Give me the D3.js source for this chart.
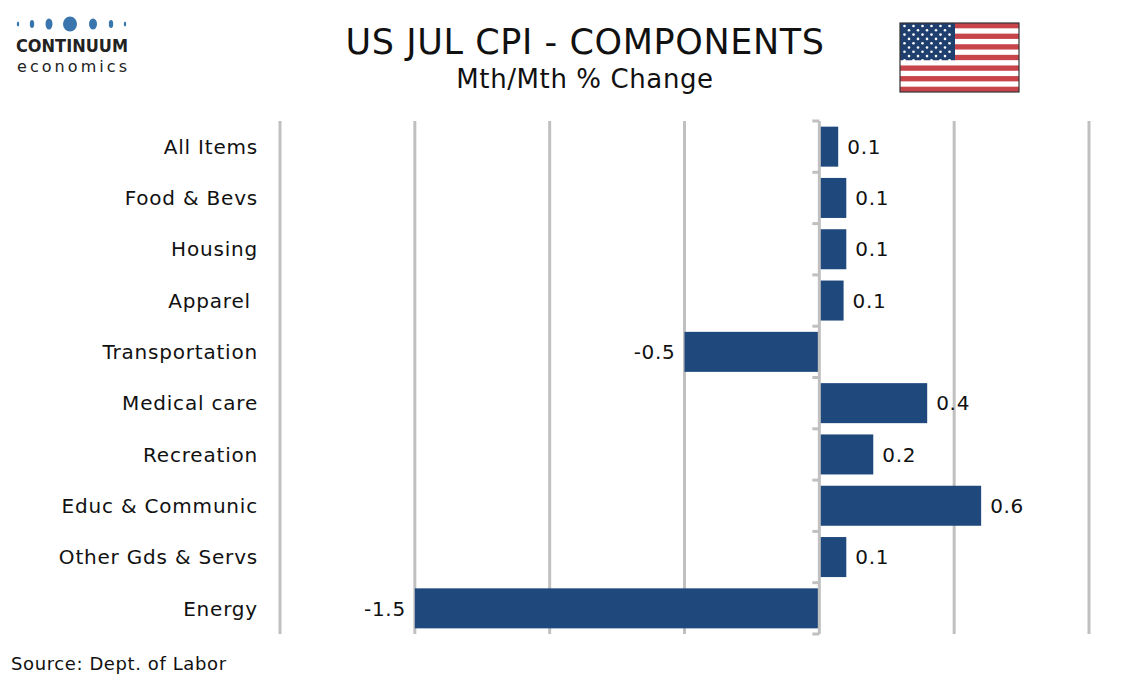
<!DOCTYPE html>
<html>
<head>
<meta charset="utf-8">
<script src="https://d3js.org/d3.v7.min.js"></script>
<title>US JUL CPI - Components</title>
<style>
body { margin: 0; background: #fff; }
svg { display: block; font-family: "DejaVu Sans", Verdana, sans-serif; }
</style>
</head>
<body>
<svg width="1134" height="680"></svg>
<script>

// mth/mth % change
let categories = ["All Items", "Food & Bevs", "Housing", "Apparel ", "Transportation",
  "Medical care", "Recreation", "Educ & Communic", "Other Gds & Servs", "Energy"];
let values = [0.07, 0.1, 0.1, 0.09, -0.5, 0.4, 0.2, 0.6, 0.1, -1.5];
let xTicks = [-2, -1.5, -1, -0.5, 0, 0.5, 1];

let svg = d3.select("svg");
let barColor = "#1f497d";
let gridColor = "#c0c0c0";
let fmt = d3.formatLocale({decimal: ".", thousands: ",", grouping: [3], currency: ["", ""], minus: "-"}).format(".1f");

let x = d3.scaleLinear().domain([-2, 1]).range([280, 1089]);
let y = d3.scaleBand().domain(categories).range([121, 634])
  .paddingInner(0.22).paddingOuter(0.11);

function drawTitle() {
  svg.append("text")
    .attr("x", 585).attr("y", 54)
    .attr("text-anchor", "middle")
    .attr("font-size", 35)
    .attr("letter-spacing", 0.6)
    .attr("fill", "#111")
    .text("US JUL CPI - COMPONENTS");
  svg.append("text")
    .attr("x", 585).attr("y", 88)
    .attr("text-anchor", "middle")
    .attr("font-size", 26)
    .attr("letter-spacing", 0.6)
    .attr("fill", "#111")
    .text("Mth/Mth % Change");
  svg.append("text")
    .attr("x", 11).attr("y", 670)
    .attr("font-size", 18)
    .attr("letter-spacing", 0.6)
    .attr("fill", "#111")
    .text("Source: Dept. of Labor");
}

function drawLogo() {
  // dots growing towards the middle
  let dots = [[18, 1.2, 2.5], [32, 2.2, 4], [49, 3.5, 5.5], [70, 7, 7.5], [93, 4, 5.5], [111, 2.2, 4], [125, 1.2, 2.5]];
  svg.selectAll("ellipse.logo").data(dots).enter().append("ellipse")
    .attr("class", "logo")
    .attr("cx", d => d[0]).attr("cy", 24)
    .attr("rx", d => d[1]).attr("ry", d => d[2])
    .attr("fill", "#3a76ad");
  svg.append("text")
    .attr("x", 16).attr("y", 52)
    .attr("font-size", 17).attr("font-weight", "bold")
    .attr("fill", "#222")
    .attr("textLength", 112)
    .attr("lengthAdjust", "spacingAndGlyphs")
    .text("CONTINUUM");
  svg.append("text")
    .attr("x", 17).attr("y", 72)
    .attr("font-size", 16)
    .attr("fill", "#222")
    .attr("textLength", 110)
    .text("economics");
}

function drawFlag() {
  let fx = 900, fy = 23, fw = 119, fh = 69;
  let g = svg.append("g");
  let sh = fh / 13;
  g.append("rect").attr("x", fx).attr("y", fy).attr("width", fw).attr("height", fh).attr("fill", "#fff");
  g.selectAll("rect.stripe").data(d3.range(0, 13, 2)).enter().append("rect")
    .attr("class", "stripe")
    .attr("x", fx).attr("y", d => fy + d * sh)
    .attr("width", fw).attr("height", sh)
    .attr("fill", "#c8444b");
  let cw = 55, ch = sh * 7;
  g.append("rect").attr("x", fx).attr("y", fy).attr("width", cw).attr("height", ch).attr("fill", "#1f3f6e");
  let stars = [];
  for (let r = 0; r < 9; r++) {
    let n = r % 2 == 0 ? 6 : 5;
    for (let c = 0; c < n; c++) {
      stars.push([fx + 4.5 + c * 9 + (r % 2) * 4.5, fy + 3 + r * 4.3]);
    }
  }
  g.selectAll("circle.star").data(stars).enter().append("circle")
    .attr("class", "star")
    .attr("cx", d => d[0]).attr("cy", d => d[1]).attr("r", 1.3)
    .attr("fill", "#fff");
  g.append("rect").attr("x", fx).attr("y", fy).attr("width", fw).attr("height", fh)
    .attr("fill", "none").attr("stroke", "#333").attr("stroke-width", 1.2);
}

function drawGrid() {
  svg.selectAll("line.grid").data(xTicks.filter(d => d != 0)).enter().append("line")
    .attr("class", "grid")
    .attr("x1", d => x(d)).attr("x2", d => x(d))
    .attr("y1", 121).attr("y2", 634)
    .attr("stroke", gridColor).attr("stroke-width", 3);
}

function drawBars() {
  svg.selectAll("rect.bar").data(values).enter().append("rect")
    .attr("class", "bar")
    .attr("x", d => x(Math.min(0, d)))
    .attr("y", (d, i) => y(categories[i]))
    .attr("width", d => Math.abs(x(d) - x(0)))
    .attr("height", y.bandwidth())
    .attr("fill", barColor);

  svg.selectAll("text.val").data(values).enter().append("text")
    .attr("class", "val")
    .attr("x", d => d < 0 ? x(d) - 9 : x(d) + 9)
    .attr("y", (d, i) => y(categories[i]) + y.bandwidth() / 2)
    .attr("dy", "0.36em")
    .attr("text-anchor", d => d < 0 ? "end" : "start")
    .attr("font-size", 20)
    .attr("letter-spacing", 0.7)
    .attr("fill", "#111")
    .text(d => fmt(d));
}

function drawZeroAxis() {
  let x0 = x(0);
  svg.append("line")
    .attr("x1", x0).attr("x2", x0)
    .attr("y1", 121).attr("y2", 634)
    .attr("stroke", gridColor).attr("stroke-width", 3);
  let bounds = d3.range(categories.length + 1).map(i => 121 + i * (513 / categories.length));
  svg.selectAll("line.ztick").data(bounds).enter().append("line")
    .attr("class", "ztick")
    .attr("x1", x0 - 7).attr("x2", x0)
    .attr("y1", d => d).attr("y2", d => d)
    .attr("stroke", gridColor).attr("stroke-width", 3);
}

function drawCategories() {
  svg.selectAll("text.cat").data(categories).enter().append("text")
    .attr("class", "cat")
    .attr("x", 258)
    .attr("y", d => y(d) + y.bandwidth() / 2)
    .attr("dy", "0.36em")
    .attr("text-anchor", "end")
    .attr("font-size", 20)
    .attr("letter-spacing", 0.8)
    .attr("fill", "#111")
    .attr("xml:space", "preserve")
    .text(d => d);
}

function drawAll() {
  drawTitle();
  drawLogo();
  drawFlag();
  drawGrid();
  drawBars();
  drawZeroAxis();
  drawCategories();
}

drawAll();

</script>
</body>
</html>
